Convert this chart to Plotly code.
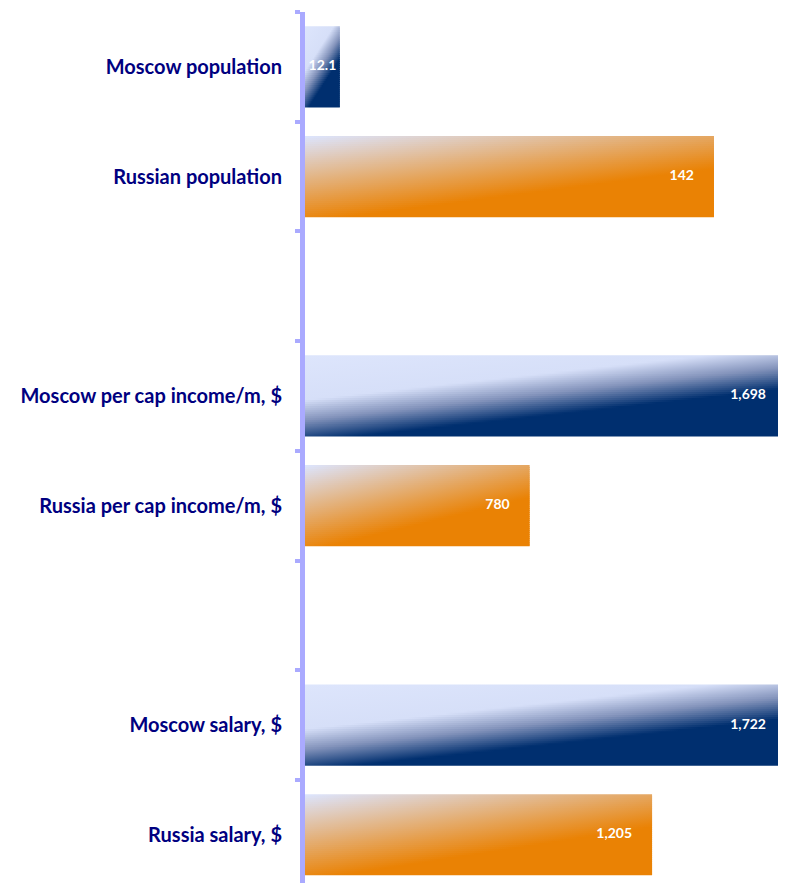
import plotly.graph_objects as go

# ---- data ----
categories = ["Moscow population", "Russian population", " ",
              "Moscow per cap income/m, $", "Russia per cap income/m, $", "  ",
              "Moscow salary, $", "Russia salary, $"]
# population values (millions) are shown x10 on the shared axis
plot_values = [121, 1420, None, 1698, 780, None, 1722, 1205]
value_labels = ["12.1", "142", "", "1,698", "780", "", "1,722", "1,205"]
series = ["moscow", "russia", None, "moscow", "russia", None, "moscow", "russia"]

X_MAX = 1670
BAR_HALF = 0.37
N_STRIPS = 40
FIG_H = 875
PLOT_H = FIG_H - 4

scales = {
    "moscow": [[0, "#dde5fc"], [0.33, "#d6dff8"], [0.48, "#8393bb"],
               [0.64, "#002f6f"], [1, "#002f6f"]],
    "russia": [[0, "#dce5ff"], [0.64, "#ea8204"], [1, "#ea8204"]],
}

fig = go.Figure()

for i, (v, s) in enumerate(zip(plot_values, series)):
    if v is None:
        continue
    y_top = i - BAR_HALF
    h = 2 * BAR_HALF
    W = v
    for k in range(N_STRIPS):
        v0 = k / N_STRIPS
        v1 = min(1.0, (k + 1.6) / N_STRIPS)
        vm = (k + 0.5) / N_STRIPS
        ya = y_top + v0 * h
        yb = y_top + v1 * h
        # t = 0.4*u + 0.6*v  (diagonal gradient in bar coordinates)
        start = -1.5 * vm * W
        stop = 2.5 * W * (1 - 0.6 * vm)
        fig.add_trace(go.Scatter(
            x=[0, W, W, 0, 0], y=[ya, ya, yb, yb, ya],
            mode="lines", line=dict(width=0), fill="toself",
            fillgradient=dict(type="horizontal", colorscale=scales[s],
                              start=start, stop=stop),
            hoverinfo="skip", showlegend=False))

# value labels
PAD = 20 / 0.288
tx, ty, tt, tp = [], [], [], []
for i, (v, lab) in enumerate(zip(plot_values, value_labels)):
    if v is None:
        continue
    if v < 300:
        tx.append(v / 2); tp.append("middle center")
    else:
        tx.append(min(v, X_MAX) - PAD); tp.append("middle left")
    ty.append(i); tt.append(lab)
fig.add_trace(go.Scatter(
    x=tx, y=ty, text=tt, mode="text", textposition=tp,
    textfont=dict(family="Lato", size=14, color="white", weight="bold"),
    hoverinfo="skip", showlegend=False, cliponaxis=False))

fig.update_layout(
    width=778, height=FIG_H,
    margin=dict(l=297, r=0, t=4, b=0),
    paper_bgcolor="white", plot_bgcolor="white",
    xaxis=dict(range=[0, X_MAX], visible=False, fixedrange=True),
    yaxis=dict(
        range=[-0.5 + PLOT_H / 109.7, -0.5],
        tickmode="array", tickvals=list(range(len(categories))),
        ticktext=categories, ticks="",
        tickfont=dict(family="Lato", size=20, color="#000080", weight="bold"),
        showline=True, linecolor="#aaaaff", linewidth=5,
        showgrid=False, zeroline=False,
        ticklabelstandoff=14,
        minor=dict(tickmode="linear", tick0=-0.5, dtick=1, ticks="outside",
                   ticklen=5, tickwidth=4, tickcolor="#aaaaff", showgrid=False),
    ),
)

fig.write_html("out.html")
